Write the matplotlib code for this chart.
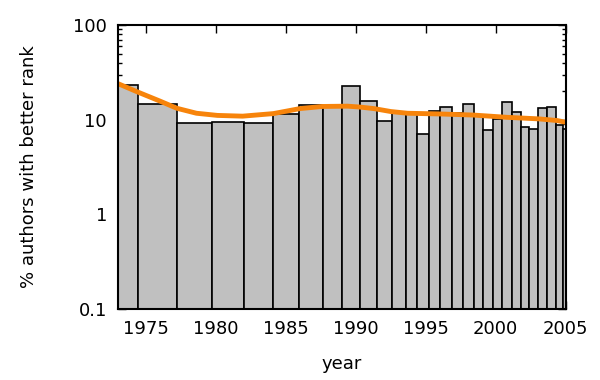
import matplotlib
matplotlib.use("Agg")
import matplotlib.pyplot as plt
import numpy as np
from matplotlib.ticker import LogLocator, FixedLocator, NullFormatter

# variable-width year bins (edges) and bar heights (%)
bin_edges = [1973.00, 1974.43, 1977.18, 1979.68, 1982.02, 1984.09, 1985.95,
             1987.63, 1989.03, 1990.32, 1991.49, 1992.56, 1993.57, 1994.41,
             1995.25, 1996.04, 1996.90, 1997.69, 1998.42, 1999.12, 1999.83,
             2000.48, 2001.15, 2001.79, 2002.41, 2003.05, 2003.65, 2004.30,
             2004.80, 2005.20]
bar_pct = [23.4, 14.5, 9.1, 9.4, 9.1, 11.3, 14.2, 13.8, 22.5, 15.5,
           9.6, 12.0, 11.6, 6.95, 12.2, 13.4, 11.7, 14.4, 11.1, 7.7,
           10.0, 15.1, 11.9, 8.2, 7.8, 13.1, 13.5, 8.6, 7.8]

# smoothed trend
trend_year = [1973.0, 1974.4, 1976.0, 1977.2, 1978.6, 1980.1, 1981.9, 1984.1,
              1986.0, 1987.6, 1989.4, 1990.3, 1991.3, 1992.5, 1993.7, 1996.0,
              1998.4, 2000.8, 2003.1, 2004.4, 2005.0]
trend_pct = [24.0, 19.6, 15.7, 13.2, 11.7, 11.1, 10.9, 11.6, 13.1, 13.8,
             13.9, 13.6, 13.1, 12.2, 11.7, 11.5, 11.2, 10.6, 10.2, 9.8, 9.4]

plt.rcParams.update({"font.family": "DejaVu Sans", "font.size": 13})

fig = plt.figure(figsize=(6, 3.8), dpi=100)
ax = fig.add_axes([0.197, 0.187, 0.7455, 0.747])

edges = np.array(bin_edges)
ax.bar(edges[:-1], bar_pct, width=np.diff(edges), bottom=0.1, align="edge",
       color="#c0c0c0", edgecolor="black", linewidth=1.2, zorder=2)
ax.plot(trend_year, trend_pct, color="#f7840b", linewidth=3.5, zorder=3,
        solid_capstyle="butt")

ax.set_yscale("log")
ax.set_ylim(0.1, 100)
ax.set_xlim(1973, 2005)
ax.set_yticks([0.1, 1, 10, 100])
ax.set_yticklabels(["0.1", "1", "10", "100"])
ax.yaxis.set_minor_locator(LogLocator(base=10, subs=np.arange(2, 10)))
ax.yaxis.set_minor_formatter(NullFormatter())
ax.xaxis.set_major_locator(FixedLocator([1975, 1980, 1985, 1990, 1995, 2000, 2005]))
ax.tick_params(which="both", direction="in", top=True, right=True, width=1)
ax.tick_params(which="major", length=6, pad=8)
ax.tick_params(which="minor", length=3)
for s in ax.spines.values():
    s.set_linewidth(1.5)
    s.set_zorder(4)

ax.set_xlabel("year", labelpad=12)
ax.set_ylabel("% authors with better rank", labelpad=25)

fig.savefig("out.png", dpi=100)
